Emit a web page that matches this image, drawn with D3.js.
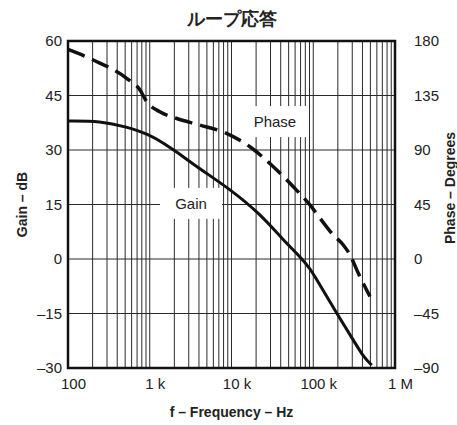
<!DOCTYPE html>
<html>
<head>
<meta charset="utf-8">
<script src="https://cdn.jsdelivr.net/npm/d3@7"></script>
<style>
  body { margin: 0; background: #fff; }
  text { fill: #222; }
</style>
</head>
<body>
<svg width="457" height="425"></svg>
<script>
// gain curve (Hz, dB)
const gainFreq = [100, 250, 520, 1000, 1500, 2130, 4100, 9600, 22000, 43000, 70000, 91000, 110000, 194000, 309000, 410000, 520000];
const gainDb   = [38, 38, 36.4, 34.2, 31.8, 29.5, 24.8, 19.2, 12.6, 5.2, 0.5, -2.6, -5.6, -15, -22.3, -26.9, -29.2];

// phase curve (Hz, degrees)
const phaseFreq = [100, 204, 522, 760, 917, 1330, 2100, 4100, 8700, 16800, 32500, 57000, 91000, 133000, 176000, 233000, 282000, 356000, 494000];
const phaseDeg  = [173, 164.3, 149.2, 139.5, 129.9, 121.6, 116.2, 110.6, 103.8, 92.7, 76.2, 59.7, 44.6, 30, 19.8, 11.6, 3.3, -11.8, -31];

const gainTicks = [-30, -15, 0, 15, 30, 45, 60];
const phaseTicks = [-90, -45, 0, 45, 90, 135, 180];
const freqTicks = [100, 1e3, 1e4, 1e5, 1e6];
const freqTickLabels = ['100', '1 k', '10 k', '100 k', '1 M'];

const FONT = '"Liberation Sans", Arial, sans-serif';

const svg = d3.select('svg').attr('font-family', FONT);
const margin = {top: 41, left: 68};
const innerWidth = 327;
const innerHeight = 327;

const g = svg.append('g').attr('transform', `translate(${margin.left}, ${margin.top})`);

const xScale = d3.scaleLog().domain([100, 1e6]).range([0, innerWidth]);
const yGain = d3.scaleLinear().domain([-30, 60]).range([innerHeight, 0]);
const yPhase = d3.scaleLinear().domain([-90, 180]).range([innerHeight, 0]);

// minor log grid
const minorTicks = [];
for (let d = 100; d < 1e6; d *= 10) {
  for (let m = 1; m <= 9; m++) minorTicks.push(d * m);
}
g.append('g').selectAll('line').data(minorTicks.slice(1)).join('line')
  .attr('x1', d => xScale(d)).attr('x2', d => xScale(d))
  .attr('y1', 0).attr('y2', innerHeight)
  .attr('stroke', '#2a2a2a').attr('stroke-width', 1);

g.append('g').selectAll('line').data(gainTicks.slice(1, -1)).join('line')
  .attr('x1', 0).attr('x2', innerWidth)
  .attr('y1', d => yGain(d)).attr('y2', d => yGain(d))
  .attr('stroke', '#2a2a2a').attr('stroke-width', 1);

// label boxes (white patches over the grid)
const phaseLabelPos = {f: 34000, v: 36.3};
const gainLabelPos = {f: 3200, v: 13.8};

function labelBox(pos, txt, w) {
  const cx = xScale(pos.f), by = yGain(pos.v);
  g.append('rect')
    .attr('x', cx - w / 2).attr('y', by - 21)
    .attr('width', w).attr('height', 31)
    .attr('fill', '#fff');
  g.append('text')
    .attr('x', cx).attr('y', by)
    .attr('font-size', 15)
    .attr('text-anchor', 'middle')
    .text(txt);
}
labelBox(phaseLabelPos, 'Phase', 65);
labelBox(gainLabelPos, 'Gain', 62);

// curves
const gainLine = d3.line()
  .x((d, i) => xScale(gainFreq[i]))
  .y(d => yGain(d))
  .curve(d3.curveBasis);
const phaseLine = d3.line()
  .x((d, i) => xScale(phaseFreq[i]))
  .y(d => yPhase(d))
  .curve(d3.curveMonotoneX);

g.append('path').attr('d', gainLine(gainDb))
  .attr('fill', 'none').attr('stroke', '#111').attr('stroke-width', 3);
g.append('path').attr('d', phaseLine(phaseDeg))
  .attr('fill', 'none').attr('stroke', '#111').attr('stroke-width', 3.5)
  .attr('stroke-dasharray', '18,8');

// frame
g.append('rect').attr('width', innerWidth).attr('height', innerHeight)
  .attr('fill', 'none').attr('stroke', '#111').attr('stroke-width', 2.5);

// axes
const minus = d => d < 0 ? '\u2013' + Math.abs(d) : d;
const yAxisLG = g.append('g')
  .call(d3.axisLeft(yGain).tickValues(gainTicks).tickSize(0).tickPadding(6).tickFormat(minus));
const yAxisRG = g.append('g').attr('transform', `translate(${innerWidth},0)`)
  .call(d3.axisRight(yPhase).tickValues(phaseTicks).tickSize(0).tickPadding(19).tickFormat(minus));
const xAxisG = g.append('g').attr('transform', `translate(0,${innerHeight})`)
  .call(d3.axisBottom(xScale).tickValues(freqTicks).tickSize(0).tickPadding(10)
    .tickFormat((d, i) => freqTickLabels[i]));

[yAxisLG, yAxisRG, xAxisG].forEach(a => {
  a.attr('font-size', 15).attr('font-family', FONT);
  a.selectAll('.domain').remove();
});
xAxisG.selectAll('text').attr('dx', 5);

// titles
svg.append('text')
  .attr('x', margin.left + innerWidth / 2).attr('y', 25)
  .attr('font-size', 18).attr('font-weight', 'bold')
  .attr('text-anchor', 'middle').text('ループ応答');

svg.append('text')
  .attr('x', margin.left + innerWidth / 2).attr('y', 417)
  .attr('font-size', 14).attr('font-weight', 'bold')
  .attr('text-anchor', 'middle').text('f \u2013 Frequency \u2013 Hz');

svg.append('text')
  .attr('transform', `translate(27, ${margin.top + innerHeight / 2}) rotate(-90)`)
  .attr('font-size', 14).attr('font-weight', 'bold')
  .attr('text-anchor', 'middle').text('Gain \u2013 dB');

svg.append('text')
  .attr('transform', `translate(455, 188) rotate(-90)`)
  .attr('font-size', 14).attr('font-weight', 'bold')
  .attr('text-anchor', 'middle').text('Phase \u2013 Degrees');
</script>
</body>
</html>
